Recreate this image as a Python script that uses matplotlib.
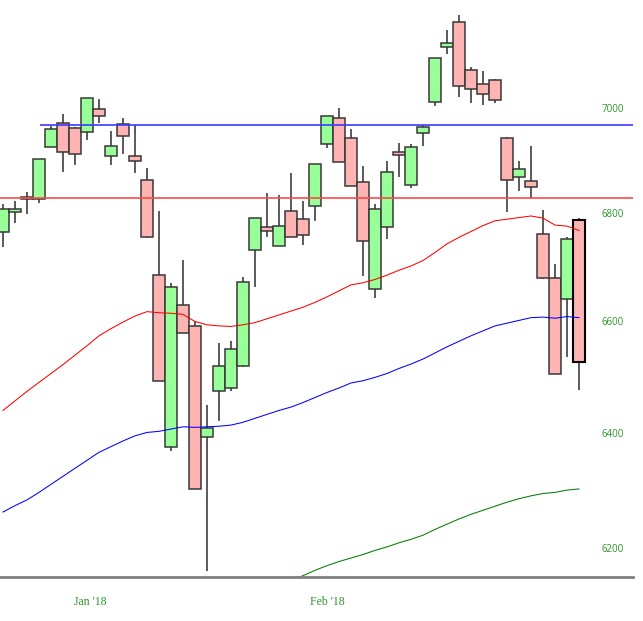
import numpy as np
import matplotlib
matplotlib.use('Agg')
import matplotlib.pyplot as plt

# OHLC per sesion (indice de sesion = posicion en x)
opens = [6767, 6805, 6828, 6829, 6928, 6974, 6964, 6956, 7001, 6910,
         6972, 6910, 6865, 6687, 6377, 6632, 6594, 6395, 6477, 6482,
         6522, 6734, 6777, 6741, 6806, 6792, 6816, 6933, 6983, 6945,
         6861, 6662, 6777, 6918, 6855, 6955, 7014, 7121, 7171, 7077,
         7049, 7057, 6945, 6871, 6863, 6763, 6682, 6643, 6790]
highs = [6820, 6825, 6842, 6905, 6968, 6991, 6966, 7022, 7020, 6958,
         6983, 6970, 6888, 6806, 6673, 6715, 6603, 6452, 6563, 6567,
         6684, 6793, 6840, 6837, 6878, 6825, 6895, 6987, 7003, 6962,
         6891, 6820, 6901, 6935, 6933, 6970, 7100, 7155, 7185, 7082,
         7075, 7059, 6947, 6901, 6930, 6808, 6708, 6758, 6793]
lows = [6739, 6784, 6801, 6821, 6927, 6880, 6893, 6941, 6974, 6893,
        6914, 6878, 6756, 6495, 6370, 6581, 6304, 6163, 6423, 6477,
        6520, 6665, 6758, 6741, 6758, 6743, 6788, 6926, 6899, 6853,
        6686, 6645, 6754, 6871, 6850, 6930, 7006, 7108, 7024, 7012,
        7008, 7012, 6805, 6844, 6829, 6680, 6507, 6538, 6478]
closes = [6810, 6810, 6833, 6905, 6962, 6918, 6914, 7022, 6987, 6930,
          6949, 6901, 6758, 6495, 6665, 6581, 6304, 6411, 6522, 6552,
          6675, 6793, 6769, 6778, 6758, 6762, 6895, 6987, 6899, 6853,
          6750, 6810, 6880, 6912, 6928, 6966, 7100, 7129, 7045, 7040,
          7030, 7018, 6865, 6886, 6852, 6682, 6507, 6754, 6529]

# medias moviles
ma_rojo = [6442, 6459, 6476, 6492, 6508, 6524, 6541, 6558, 6576, 6589,
           6601, 6612, 6620, 6618, 6617, 6615, 6602, 6596, 6594, 6593,
           6596, 6600, 6607, 6614, 6621, 6628, 6637, 6647, 6658, 6669,
           6673, 6679, 6687, 6696, 6704, 6714, 6729, 6745, 6757, 6768,
           6779, 6788, 6791, 6794, 6797, 6793, 6780, 6778, 6770]
ma_azul = [6264, 6275, 6285, 6298, 6312, 6326, 6340, 6354, 6368, 6378,
           6388, 6397, 6403, 6405, 6409, 6413, 6412, 6413, 6414, 6416,
           6421, 6428, 6435, 6442, 6448, 6456, 6465, 6474, 6482, 6491,
           6495, 6501, 6508, 6517, 6525, 6534, 6545, 6556, 6566, 6576,
           6585, 6594, 6599, 6604, 6609, 6610, 6608, 6611, 6609]
ma_verde_inicio = 22
ma_verde = [6131, 6139, 6147, 6155, 6164, 6172, 6179, 6185, 6191, 6198,
            6204, 6211, 6217, 6224, 6234, 6243, 6252, 6260, 6267, 6274,
            6281, 6287, 6292, 6296, 6298, 6302, 6304]

resistencia = 6970
soporte = 6830
niveles = [7000, 6800, 6600, 6400, 6200]
meses = ["Jan '18", "Feb '18"]
pos_meses = [7.3, 27.0]

verde_txt = '#2a962a'

fig = plt.figure(figsize=(6.43, 6.21), dpi=100)
ax = fig.add_axes([0, 1 - 576.7 / 621, 633 / 643, 576.7 / 621])
ax.set_yscale('log')

x = np.arange(len(opens))
o = np.array(opens)
c = np.array(closes)
sube = c >= o

# mechas
ax.vlines(x, lows, highs, color='#5a5a5a', linewidth=1.4, zorder=2)
# cuerpos
colores = np.where(sube, '#99ff99', '#ffb4b4')
ax.bar(x, np.abs(c - o), bottom=np.minimum(o, c), width=0.95,
       color=colores, edgecolor='#383838', linewidth=1.1, zorder=3)
# ultima vela resaltada
ax.bar(x[-1], abs(c[-1] - o[-1]), bottom=min(o[-1], c[-1]), width=0.95,
       color='#ffb4b4', edgecolor='black', linewidth=1.5, zorder=4)

ax.plot(x, ma_rojo, color='red', linewidth=0.75, zorder=5)
ax.plot(x, ma_azul, color='blue', linewidth=0.75, zorder=5)
ax.plot(x[ma_verde_inicio:], ma_verde, color='green', linewidth=0.75, zorder=5)

ax.hlines(resistencia, 3.05, 52.5, color='#3a3aff', linewidth=1.2, zorder=6)
ax.axhline(soporte, color='#ff4a4a', linewidth=1.2, zorder=6)

for n in niveles:
    ax.text(50.8, n, str(n), ha='center', va='center', color=verde_txt,
            fontsize=7, family='Open Sans')

ax.set_xlim(-0.25, 52.5)
ax.set_ylim(6153.2, 7214.3)
ax.yaxis.set_major_locator(matplotlib.ticker.NullLocator())
ax.yaxis.set_minor_locator(matplotlib.ticker.NullLocator())
ax.set_xticks(pos_meses)
ax.set_xticklabels(meses, color=verde_txt, fontsize=8.5, family='Liberation Serif')
ax.tick_params(axis='x', length=0, pad=14)

for lado in ['top', 'left', 'right']:
    ax.spines[lado].set_visible(False)
ax.spines['bottom'].set_color('#808080')
ax.spines['bottom'].set_linewidth(2)
ax.spines['bottom'].set_zorder(7)

fig.savefig('out.png', dpi=100)
